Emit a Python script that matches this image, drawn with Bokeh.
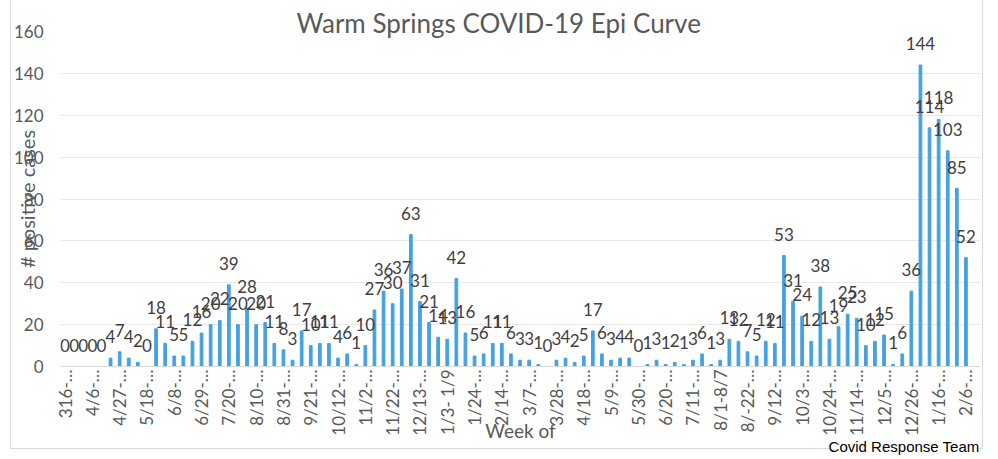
import math
from bokeh.plotting import figure
from bokeh.models import Range1d, FixedTicker, ColumnDataSource, LabelSet, Title
from bokeh.core.properties import value
from bokeh.embed import file_html
from bokeh.resources import INLINE

# Weekly positive cases (one bar per week)
cases = [
    0, 0, 0, 0, 0, 4, 7, 4, 2, 0,
    18, 11, 5, 5, 12, 16, 20, 22, 39, 20,
    28, 20, 21, 11, 8, 3, 17, 10, 11, 11,
    4, 6, 1, 10, 27, 36, 30, 37, 63, 31,
    21, 14, 13, 42, 16, 5, 6, 11, 11, 6,
    3, 3, 1, 0, 3, 4, 2, 5, 17, 6,
    3, 4, 4, 0, 1, 3, 1, 2, 1, 3,
    6, 1, 3, 13, 12, 7, 5, 12, 11, 53,
    31, 24, 12, 38, 13, 19, 25, 23, 10, 12,
    15, 1, 6, 36, 144, 114, 118, 103, 85, 52,
]

# Category labels shown on every third week
tick_labels = [
    "316-…", "4/6-…", "4/27-…", "5/18-…", "6/8-…", "6/29-…", "7/20-…",
    "8/10-…", "8/31-…", "9/21-…", "10/12-…", "11/2-…", "11/22-…", "12/13-…",
    "1/3- 1/9", "1/24-…", "2/14-…", "3/7-…", "3/28-…", "4/18-…", "5/9-…",
    "5/30-…", "6/20-…", "7/11-…", "8/1-8/7", "8/-22-…", "9/12-…", "10/3-…",
    "10/24-…", "11/14-…", "12/5-…", "12/26-…", "1/16-…", "2/6-…",
]
tick_step = 3
y_ticks = [0, 20, 40, 60, 80, 100, 120, 140, 160]

title_text = "Warm Springs COVID-19 Epi Curve"
x_title = "Week of"
y_title = "# positive cases"
credit = "Covid Response Team"

weeks = list(range(len(cases)))
src = ColumnDataSource(dict(x=weeks, y=cases, label=[str(v) for v in cases]))

GREY = "#595959"
BORDER = "#D9D9D9"
FONT = "Lato"

p = figure(frame_width=920, frame_height=335, output_backend="svg", toolbar_location=None,
           x_range=Range1d(-0.5, len(cases) + 0.6),
           y_range=Range1d(y_ticks[0], y_ticks[-1]),
           min_border_left=60, min_border_right=4,
           min_border_top=31, min_border_bottom=92)
p.background_fill_color = None
p.border_fill_color = None
p.outline_line_color = None
grad = f"linear-gradient({BORDER},{BORDER})"
p.styles = {
    "background-image": ", ".join([grad] * 3),
    "background-size": "1px 449px, 1px 449px, 973px 1px",
    "background-position": "10px 0px, 982px 0px, 10px 448px",
    "background-repeat": "no-repeat",
}

p.vbar(x="x", top="y", width=0.3, source=src, color="#45A2E0")

# grid
p.xgrid.visible = False
p.ygrid.ticker = FixedTicker(ticks=y_ticks)
p.ygrid.grid_line_color = "#E8E8E8"
p.ygrid.grid_line_width = 1

# y axis
p.yaxis.ticker = FixedTicker(ticks=y_ticks)
p.yaxis.axis_line_color = None
p.yaxis.major_tick_line_color = None
p.yaxis.minor_tick_line_color = None
p.yaxis.major_tick_out = 0
p.yaxis.major_tick_in = 0
p.yaxis.major_label_standoff = 17
p.yaxis.major_label_text_font = FONT
p.yaxis.major_label_text_font_size = "17px"
p.yaxis.major_label_text_color = GREY
p.yaxis.axis_label = y_title
p.yaxis.axis_label_standoff = -28
p.yaxis.axis_label_text_font = FONT
p.yaxis.axis_label_text_font_size = "20px"
p.yaxis.axis_label_text_font_style = "normal"
p.yaxis.axis_label_text_color = GREY

# x axis
tick_pos = weeks[::tick_step]
p.xaxis.ticker = FixedTicker(ticks=tick_pos)
p.xaxis.major_label_overrides = {int(t): lab for t, lab in zip(tick_pos, tick_labels)}
p.xaxis.major_label_orientation = math.pi / 2
p.xaxis.axis_line_color = BORDER
p.xaxis.major_tick_line_color = None
p.xaxis.minor_tick_line_color = None
p.xaxis.major_tick_out = 0
p.xaxis.major_tick_in = 0
p.xaxis.major_label_standoff = 3
p.xaxis.major_label_text_font = FONT
p.xaxis.major_label_text_font_size = "17px"
p.xaxis.major_label_text_color = GREY
p.xaxis.axis_label = x_title
p.xaxis.axis_label_standoff = -20
p.xaxis.axis_label_text_font = FONT
p.xaxis.axis_label_text_font_size = "19px"
p.xaxis.axis_label_text_font_style = "normal"
p.xaxis.axis_label_text_color = GREY

# data labels
p.add_layout(LabelSet(x="x", y="y", text="label", source=src, y_offset=15,
                      text_align="center", text_baseline="alphabetic",
                      text_font=value(FONT), text_font_size="17px",
                      text_color="#404040"))

# chart title
p.title = Title(text=title_text, align="left", offset=236, standoff=-14,
                text_font=FONT, text_font_size="26px", text_font_style="normal",
                text_color=GREY)

# credit line under the chart
p.add_layout(Title(text=credit, align="right", offset=1, standoff=-15,
                   vertical_align="middle",
                   text_font="Liberation Sans", text_font_size="15px",
                   text_font_style="normal", text_color="black",
                   background_fill_color="white"), "below")

open("out.html", "w").write(file_html(p, INLINE))
